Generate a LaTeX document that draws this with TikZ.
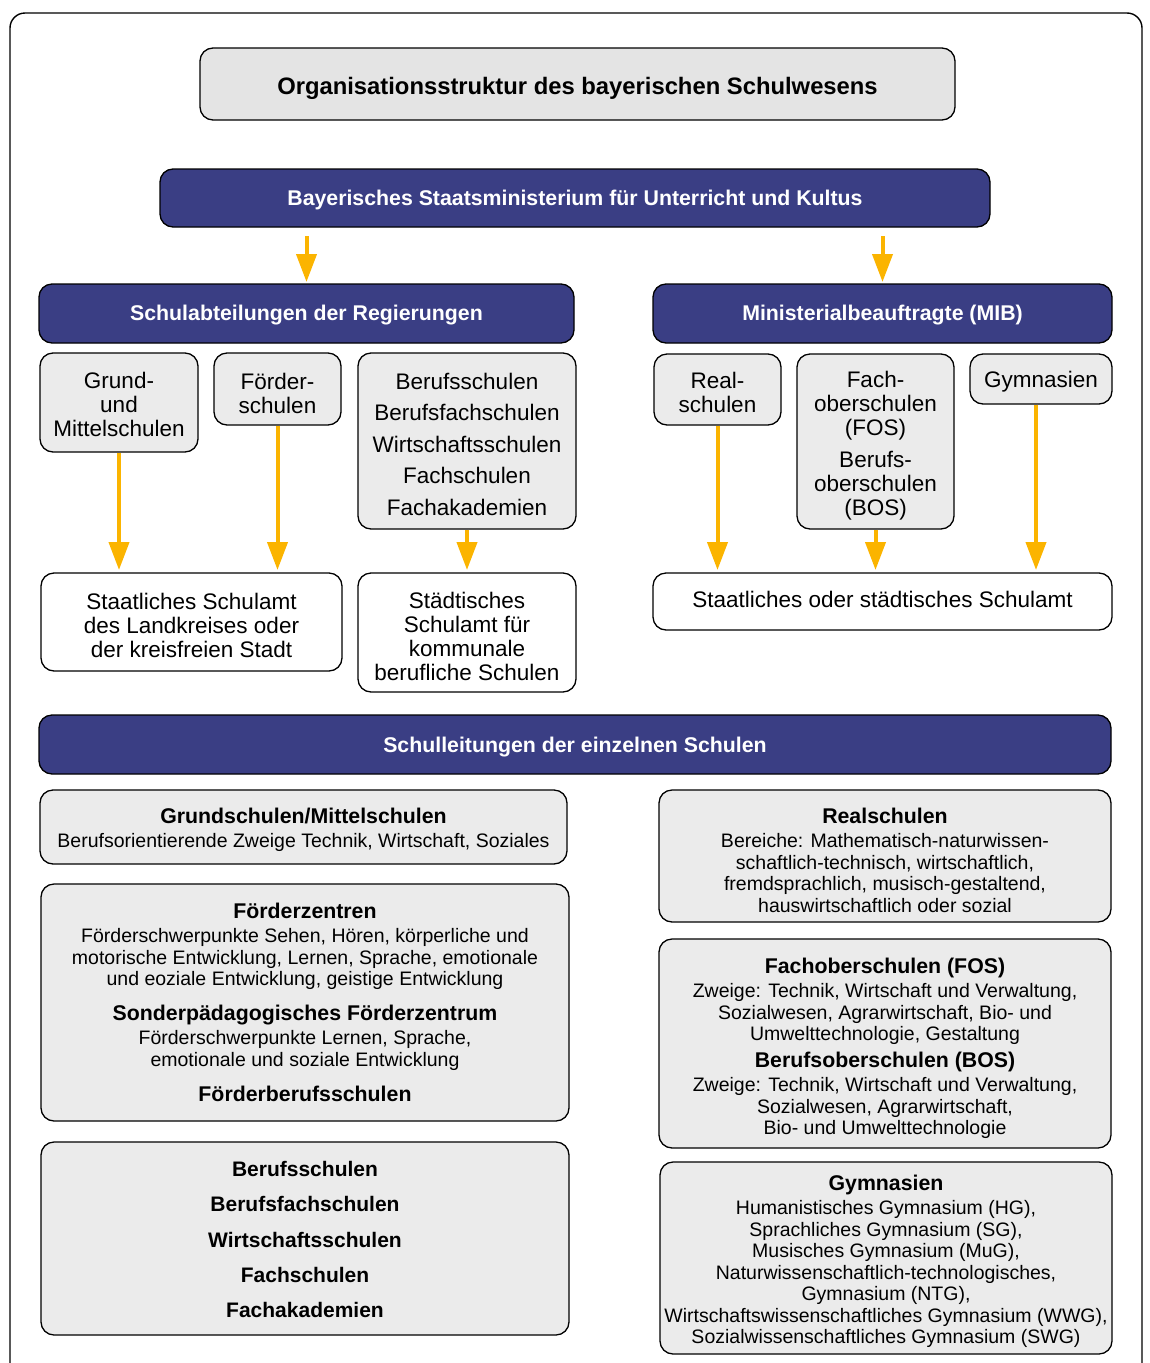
\documentclass[tikz,border=0pt]{standalone}
\usepackage{fontspec}
\setmainfont{Liberation Sans}
\usetikzlibrary{arrows.meta}
\definecolor{navy}{HTML}{3A3E84}
\definecolor{boxgray}{HTML}{EBEBEB}
\definecolor{titlegray}{HTML}{E4E4E4}
\definecolor{arrowc}{HTML}{FBB400}
\newcommand\hdr[1]{{\fontsize{21.3}{21.5}\selectfont\bfseries #1}}
\begin{document}
\begin{tikzpicture}[x=1pt,y=-1pt,
  box/.style={draw=black, line width=1.3pt, rounded corners=13pt, fill=boxgray,
    inner sep=0pt, outer sep=0pt, anchor=north west},
  wh/.style 2 args={minimum width=#1, minimum height=#2},
  navybox/.style={box, fill=navy},
  whitebox/.style={box, fill=white},
  txt/.style={inner sep=0pt, align=center, text=black, yshift=-#1pt},
  navytxt/.style={txt=#1, text=white, font=\fontsize{21.3}{24}\selectfont\bfseries},
  toptxt/.style={txt=#1, font=\fontsize{22.5}{24}\selectfont},
  lowtxt/.style={txt=#1, font=\fontsize{19.5}{21.5}\selectfont},
  arr/.style={draw=arrowc, line width=4pt, -{Triangle[width=20pt,length=28pt]},
    shorten >=3pt, shorten <=0.7pt}
]
\useasboundingbox (0,0) rectangle (1149,1363);
\draw[line width=1.4pt, rounded corners=15pt] (10,1400) -- (10,13) -- (1142,13) -- (1142,1400);

% title
\node[box, fill=titlegray, wh={755pt}{72pt}] (title) at (200,48) {};
\node[txt=4, font=\fontsize{23.8}{28}\selectfont\bfseries] (titleT) at (title.center)
  {Organisationsstruktur des bayerischen Schulwesens};

% ministry
\node[navybox, wh={830pt}{58pt}] (min) at (160,169) {};
\node[navytxt=2] (minT) at (min.center) {Bayerisches Staatsministerium für Unterricht und Kultus};

% second level
\node[navybox, wh={535pt}{59pt}] (sa) at (39,284) {};
\node[navytxt=2] (saT) at (sa.center) {Schulabteilungen der Regierungen};
\node[navybox, wh={459pt}{59pt}] (mib) at (653,284) {};
\node[navytxt=2] (mibT) at (mib.center) {Ministerialbeauftragte (MIB)};

% school types
\node[box, wh={158pt}{99pt}] (gms) at (40,353) {};
\node[toptxt=2] (gmsT) at (gms.center) {Grund-\\und\\Mittelschulen};
\node[box, wh={127pt}{72pt}] (fs) at (214,353) {};
\node[toptxt=4] (fsT) at (fs.center) {Förder-\\schulen};
\node[box, wh={218pt}{176pt}] (bs) at (358,353) {};
\node[toptxt=3, font=\fontsize{22.5}{31.5}\selectfont] (bsT) at (bs.center)
  {Berufsschulen\\Berufsfachschulen\\Wirtschaftsschulen\\Fachschulen\\Fachakademien};
\node[box, wh={127pt}{71pt}] (rs) at (654,354) {};
\node[toptxt=3] (rsT) at (rs.center) {Real-\\schulen};
\node[box, wh={157pt}{175pt}] (fos) at (797,354) {};
\node[toptxt=4] (fosT) at (fos.center)
  {Fach-\\oberschulen\\(FOS)\\[8pt]Berufs-\\oberschulen\\(BOS)};
\node[box, wh={142pt}{50pt}] (gym) at (970,354) {};
\node[toptxt=2.5] (gymT) at (gym.center) {Gymnasien};

% school offices
\node[whitebox, wh={301pt}{98pt}] (ssa) at (41,573) {};
\node[toptxt=3] (ssaT) at (ssa.center)
  {Staatliches Schulamt\\des Landkreises oder\\der kreisfreien Stadt};
\node[whitebox, wh={218pt}{119pt}] (sts) at (358,573) {};
\node[toptxt=4] (stsT) at (sts.center)
  {Städtisches\\Schulamt für\\kommunale\\berufliche Schulen};
\node[whitebox, wh={459pt}{57pt}] (sos) at (653,573) {};
\node[toptxt=-2] (sosT) at (sos.center) {Staatliches oder städtisches Schulamt};

% school management
\node[navybox, wh={1072pt}{59pt}] (sl) at (39,715) {};
\node[navytxt=3] (slT) at (sl.center) {Schulleitungen der einzelnen Schulen};

% lower boxes left
\node[box, wh={527pt}{74pt}] (b1) at (40,790) {};
\node[lowtxt=3] (b1T) at (b1.center)
  {\hdr{Grundschulen/Mittelschulen}\\[2.5pt]Berufsorientierende Zweige Technik, Wirtschaft, Soziales};
\node[box, wh={528pt}{237pt}] (b2) at (41,884) {};
\node[lowtxt=0] (b2T) at (b2.center)
  {\hdr{Förderzentren}\\[2.5pt]Förderschwerpunkte Sehen, Hören, körperliche und\\
   motorische Entwicklung, Lernen, Sprache, emotionale\\
   und eoziale Entwicklung, geistige Entwicklung\\[13.5pt]
   \hdr{Sonderpädagogisches Förderzentrum}\\[2.5pt]
   Förderschwerpunkte Lernen, Sprache,\\emotionale und soziale Entwicklung\\[13.5pt]
   \hdr{Förderberufsschulen}};
\node[box, wh={528pt}{193pt}] (b3) at (41,1142) {};
\node[txt=1, font=\fontsize{21}{35.3}\selectfont\bfseries] (b3T) at (b3.center)
  {Berufsschulen\\Berufsfachschulen\\Wirtschaftsschulen\\Fachschulen\\Fachakademien};

% lower boxes right
\node[box, wh={452pt}{132pt}] (b4) at (659,790) {};
\node[lowtxt=4.5] (b4T) at (b4.center)
  {\hdr{Realschulen}\\[2.5pt]Bereiche: Mathematisch-naturwissen-\\
   schaftlich-technisch, wirtschaftlich,\\fremdsprachlich, musisch-gestaltend,\\
   hauswirtschaftlich oder sozial};
\node[box, wh={452pt}{209pt}] (b5) at (659,939) {};
\node[lowtxt=5] (b5T) at (b5.center)
  {\hdr{Fachoberschulen (FOS)}\\[2.5pt]Zweige: Technik, Wirtschaft und Verwaltung,\\
   Sozialwesen, Agrarwirtschaft, Bio- und\\Umwelttechnologie, Gestaltung\\[5.5pt]
   \hdr{Berufsoberschulen (BOS)}\\[2.5pt]Zweige: Technik, Wirtschaft und Verwaltung,\\
   Sozialwesen, Agrarwirtschaft,\\Bio- und Umwelttechnologie};
\node[box, wh={452pt}{192pt}] (b6) at (660,1162) {};
\node[lowtxt=3.5] (b6T) at (b6.center)
  {\hdr{Gymnasien}\\[3pt]Humanistisches Gymnasium (HG),\\Sprachliches Gymnasium (SG),\\
   Musisches Gymnasium (MuG),\\Naturwissenschaftlich-technologisches,\\Gymnasium (NTG),\\
   Wirtschaftswissenschaftliches Gymnasium (WWG),\\Sozialwissenschaftliches Gymnasium (SWG)};

% arrows
\draw[arr, shorten <=9pt, shorten >=2pt] (min.south -| sa.north) -- (sa.north);
\draw[arr, shorten <=9pt, shorten >=2pt] (min.south -| mib.north) -- (mib.north);
\draw[arr] (gms.south) -- (gms.south |- ssa.north);
\draw[arr] (fs.south) -- (fs.south |- ssa.north);
\draw[arr] (bs.south) -- (bs.south |- sts.north);
\draw[arr] (rs.south) -- (rs.south |- sos.north);
\draw[arr] (fos.south) -- (fos.south |- sos.north);
\draw[arr] ([xshift=-5pt]gym.south) -- ([xshift=-5pt]gym.south |- sos.north);
\end{tikzpicture}
\end{document}
